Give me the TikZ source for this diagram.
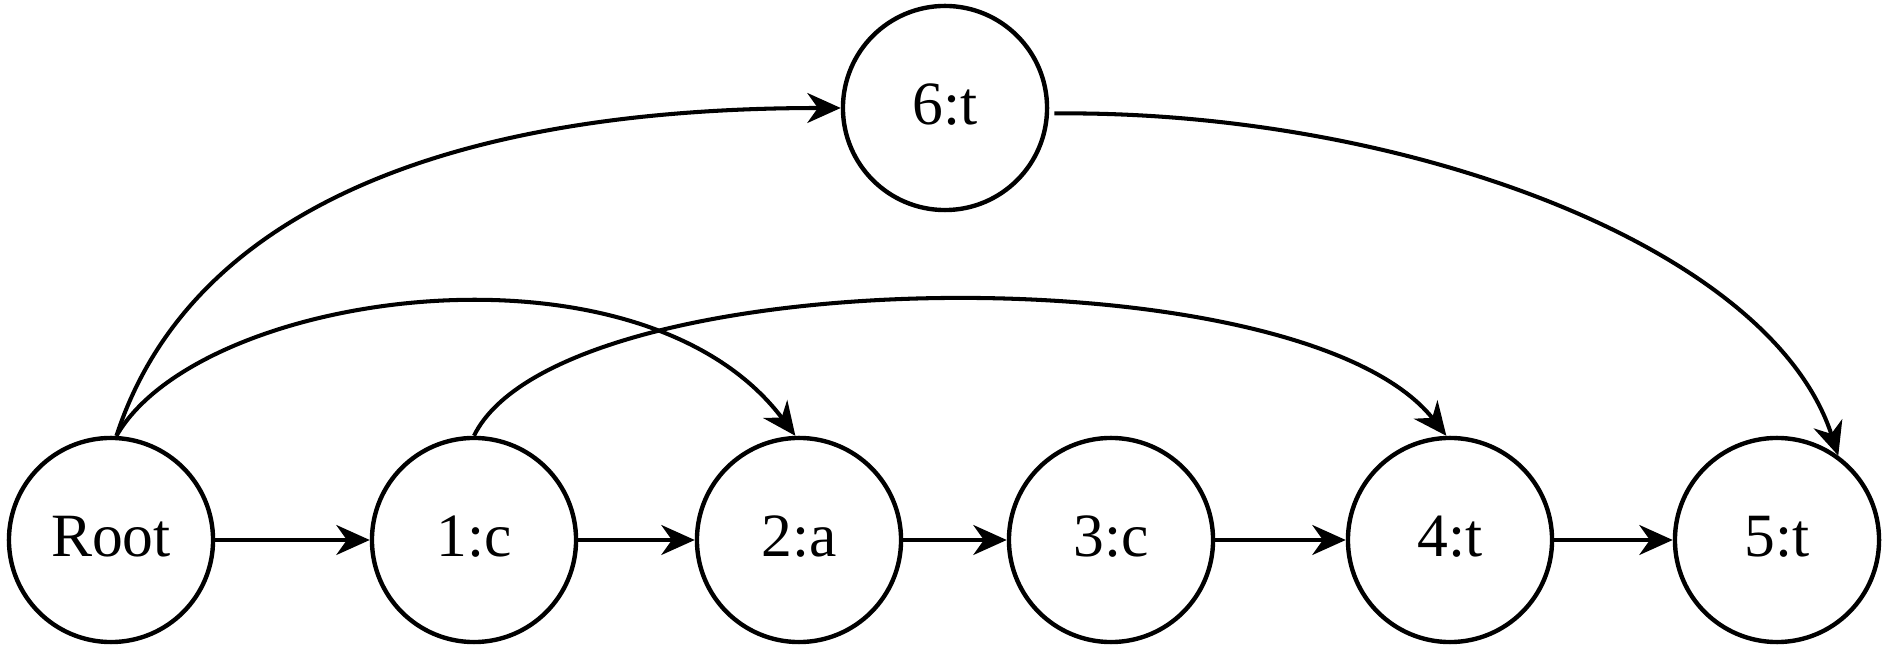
\documentclass[tikz,border=0pt]{standalone}
\usepackage{fontspec}
\setmainfont{Liberation Serif}
\usetikzlibrary{arrows.meta}
\begin{document}
\begin{tikzpicture}[x=0.01cm,y=-0.01cm,
  state/.style={circle,draw,line width=1.25pt,minimum size=2.04cm,inner sep=0pt,font=\fontsize{17.5}{20}\selectfont},
  conn/.style={line width=1.15pt,-{Stealth[length=9.5pt,width=8.5pt,inset=3pt]}}]
\useasboundingbox (0,0) rectangle (1890,655);
\node[state] (n0) at (111,540) {\raisebox{2pt}{Root}};
\node[state] (n1) at (474,540) {\raisebox{2pt}{1:c}};
\node[state] (n2) at (799,540) {\raisebox{2pt}{2:a}};
\node[state] (n3) at (1111,540) {\raisebox{2pt}{3:c}};
\node[state] (n4) at (1450,540) {\raisebox{2pt}{4:t}};
\node[state] (n5) at (1777,540) {\raisebox{2pt}{5:t}};
\node[state] (n6) at (945,108) {\raisebox{2pt}{6:t}};
\draw[conn] (n0) -- (n1);
\draw[conn] (n1) -- (n2);
\draw[conn] (n2) -- (n3);
\draw[conn] (n3) -- (n4);
\draw[conn] (n4) -- (n5);
\draw[conn] (n0.87) .. controls (190,210) and (450,108) .. (n6.west);
\draw[conn] (n0.87) .. controls (200,290) and (640,229) .. (n2.92);
\draw[conn] (n1.90) .. controls (560,260) and (1300,250) .. (n4.92);
\draw[conn] ([xshift=1.5pt]n6.-3) .. controls (1400,110) and (1770,245) .. (n5.54);
\end{tikzpicture}
\end{document}
